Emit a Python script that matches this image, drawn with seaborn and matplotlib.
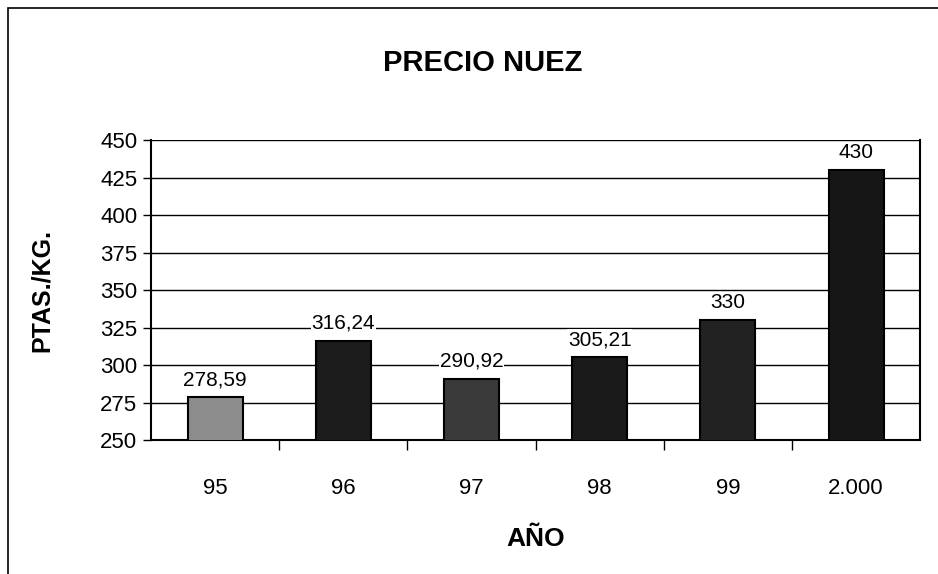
import matplotlib
matplotlib.use("Agg")
import matplotlib.pyplot as plt
import seaborn as sns
import pandas as pd
from matplotlib.patches import Rectangle

anios = ["95", "96", "97", "98", "99", "2.000"]
precios = [278.59, 316.24, 290.92, 305.21, 330, 430]
etiquetas = ["278,59", "316,24", "290,92", "305,21", "330", "430"]
colores = ["#8c8c8c", "#1c1c1c", "#3a3a3a", "#1a1a1a", "#222222", "#161616"]

sns.set_theme(style="ticks")
plt.rcParams["font.family"] = ["Liberation Sans", "DejaVu Sans"]
plt.rcParams["text.color"] = "black"
plt.rcParams["axes.labelcolor"] = "black"
plt.rcParams["xtick.color"] = "black"
plt.rcParams["ytick.color"] = "black"

df = pd.DataFrame({"anio": anios, "precio": precios})

fig = plt.figure(figsize=(9.38, 5.74), dpi=100)
ax = fig.add_axes([0.161, 0.233, 0.82, 0.523])

sns.barplot(data=df, x="anio", y="precio", hue="anio", palette=colores,
            legend=False, width=0.43, edgecolor="black", linewidth=1.5,
            ax=ax, zorder=3)

ax.set_ylim(250, 450)
ax.set_yticks(range(250, 451, 25))
ax.yaxis.grid(True, color="black", linewidth=1.0)
ax.set_axisbelow(True)

# etiquetas de datos con fondo blanco sobre la rejilla
for cont, txt in zip(ax.containers, etiquetas):
    ax.bar_label(cont, labels=[txt], padding=6, fontsize=15,
                 bbox=dict(facecolor="white", edgecolor="none", pad=0.5),
                 zorder=5)

ax.set_xlim(-0.5, len(anios) - 0.5)
ax.set_xticks([k - 0.5 for k in range(1, len(anios))], minor=True)
ax.tick_params(axis="x", which="major", length=0, pad=27, labelsize=16)
ax.tick_params(axis="x", which="minor", length=7, width=1, color="black")
ax.tick_params(axis="y", length=6, width=1, color="black", labelsize=16, pad=4)

for side in ["left", "bottom", "right"]:
    ax.spines[side].set_color("black")
    ax.spines[side].set_linewidth(1.5)
ax.spines["top"].set_visible(False)

ax.set_xlabel("AÑO", fontsize=19, fontweight="bold", labelpad=20)
ax.set_ylabel("PTAS./KG.", fontsize=18, fontweight="bold", labelpad=33)

fig.text(0.515, 0.89, "PRECIO NUEZ", ha="center", va="center",
         fontsize=21, fontweight="bold")

fig.patches.append(Rectangle((0.009, -0.1), 1.2, 0.1 + 0.986, transform=fig.transFigure,
                             fill=False, edgecolor="black", linewidth=1.2))

fig.savefig("out.png", dpi=100)
